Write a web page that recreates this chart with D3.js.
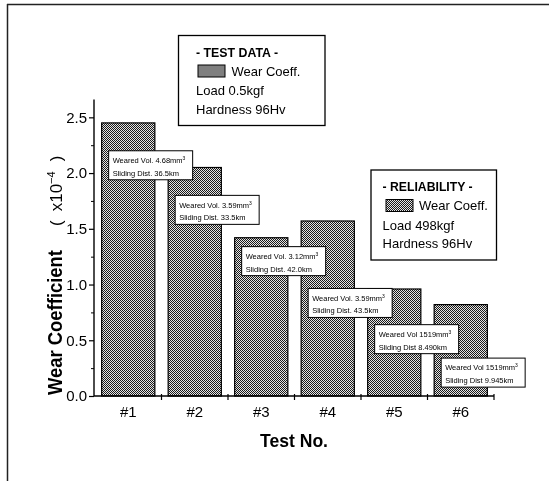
<!DOCTYPE html>
<html>
<head>
<meta charset="utf-8">
<script src="https://cdn.jsdelivr.net/npm/d3@7"></script>
<style>
  body { margin: 0; background: #fff; }
  svg { will-change: transform; }
  text { font-family: "Liberation Sans", Arial, sans-serif; fill: #000; }
</style>
</head>
<body>
<script>
// test numbers and measured wear coefficient (x10^-4)
var tests = ["#1", "#2", "#3", "#4", "#5", "#6"];
var wearCoeff = [2.45, 2.05, 1.42, 1.57, 0.96, 0.82];

// annotation text per bar, and where its box sits (in y units)
var wearedVol = ["Weared Vol. 4.68mm", "Weared Vol. 3.59mm", "Weared Vol. 3.12mm",
                 "Weared Vol. 3.59mm", "Weared Vol  1519mm", "Weared Vol  1519mm"];
var slidingDist = ["Sliding Dist. 36.5km", "Sliding Dist. 33.5km", "Sliding Dist. 42.0km",
                   "Sliding Dist. 43.5km", "Sliding Dist  8.490km", "Sliding Dist  9.945km"];
var noteAt = [2.20, 1.80, 1.34, 0.965, 0.64, 0.34];

var yTicks = [0, 0.5, 1.0, 1.5, 2.0, 2.5];
var yMinor = [0.25, 0.75, 1.25, 1.75, 2.25];

// legend boxes
var legendTitle = ["- TEST DATA -", "- RELIABILITY -"];
var legendLoad = ["Load 0.5kgf", "Load 498kgf"];
var legendHard = ["Hardness 96Hv", "Hardness 96Hv"];

var width = 549, height = 481;

var svg = d3.select("body").append("svg")
    .attr("width", width)
    .attr("height", height);

// halftone fill like the scanned bars
var defs = svg.append("defs");
var pat = defs.append("pattern")
    .attr("id", "dots")
    .attr("patternUnits", "userSpaceOnUse")
    .attr("width", 2).attr("height", 2);
pat.append("rect").attr("width", 2).attr("height", 2).attr("fill", "#e4e4e4");
pat.append("rect").attr("width", 1).attr("height", 1).attr("fill", "#1a1a1a");
pat.append("rect").attr("x", 1).attr("y", 1).attr("width", 1).attr("height", 1).attr("fill", "#1a1a1a");

// page frame (top + left only)
svg.append("line").attr("x1", 7).attr("x2", 549).attr("y1", 4.5).attr("y2", 4.5)
    .attr("stroke", "#222").attr("stroke-width", 1.5);
svg.append("line").attr("x1", 7.5).attr("x2", 7.5).attr("y1", 4).attr("y2", 481)
    .attr("stroke", "#222").attr("stroke-width", 1.5);

var x0 = 94, x1 = 494, y0 = 396;

var x = d3.scaleBand()
    .domain(tests)
    .range([95, x1])
    .paddingInner(0.2)
    .paddingOuter(0.1);

var y = d3.scaleLinear()
    .domain([0, 2.66])
    .range([y0, 99.5]);

// bars
svg.append("g")
    .selectAll("rect")
    .data(wearCoeff)
    .enter().append("rect")
    .attr("x", function(d, i) { return x(tests[i]); })
    .attr("y", function(d) { return y(d); })
    .attr("width", x.bandwidth())
    .attr("height", function(d) { return y(0) - y(d); })
    .attr("fill", "url(#dots)")
    .attr("stroke", "#000")
    .attr("stroke-width", 1.2);

// y axis
var yAxis = svg.append("g")
    .attr("transform", "translate(" + x0 + ",0)")
    .call(d3.axisLeft(y).tickValues(yTicks).tickFormat(d3.format(".1f"))
          .tickSize(5).tickPadding(2));
yAxis.select(".domain").remove();
yAxis.selectAll("line").attr("stroke", "#000").attr("stroke-width", 1.2);
yAxis.selectAll("text").style("font-size", "15px");

var yMin = svg.append("g")
    .attr("transform", "translate(" + x0 + ",0)")
    .call(d3.axisLeft(y).tickValues(yMinor).tickFormat("").tickSize(3));
yMin.select(".domain").remove();
yMin.selectAll("line").attr("stroke", "#000").attr("stroke-width", 1);

svg.append("line")
    .attr("x1", x0).attr("x2", x0)
    .attr("y1", y(0)).attr("y2", y(2.66))
    .attr("stroke", "#000").attr("stroke-width", 1.4);

// x axis
var xAxis = svg.append("g")
    .attr("transform", "translate(0," + y0 + ")")
    .call(d3.axisBottom(x).tickSize(0).tickPadding(10.5));
xAxis.select(".domain").remove();
xAxis.selectAll("text").style("font-size", "15px");

svg.append("line")
    .attr("x1", x0).attr("x2", x1)
    .attr("y1", y0).attr("y2", y0)
    .attr("stroke", "#000").attr("stroke-width", 1.4);

// ticks on the cell boundaries
svg.append("g")
    .selectAll("line")
    .data(tests)
    .enter().append("line")
    .attr("x1", function(d) { return x(d) + x.bandwidth() + x.step() * x.paddingInner() / 2; })
    .attr("x2", function(d) { return x(d) + x.bandwidth() + x.step() * x.paddingInner() / 2; })
    .attr("y1", y0 - 2)
    .attr("y2", y0 + 4)
    .attr("stroke", "#000")
    .attr("stroke-width", 1.2);

// axis titles
svg.append("text")
    .attr("x", 294).attr("y", 446.5)
    .attr("text-anchor", "middle")
    .attr("textLength", 68)
    .attr("lengthAdjust", "spacingAndGlyphs")
    .style("font-size", "19px")
    .style("font-weight", "bold")
    .text("Test No.");

svg.append("text")
    .attr("transform", "translate(61.5,395) rotate(-90)")
    .attr("textLength", 145)
    .attr("lengthAdjust", "spacingAndGlyphs")
    .style("font-size", "20px")
    .style("font-weight", "bold")
    .text("Wear Coefficient");

var unit = svg.append("text")
    .attr("transform", "translate(61.5,226) rotate(-90)")
    .style("font-size", "17px");
unit.append("tspan").text("(");
unit.append("tspan").attr("dx", 9).text("x10");
unit.append("tspan").attr("dy", -7).style("font-size", "11px").text("\u22124");
unit.append("tspan").attr("dy", 7).attr("dx", 10).text(")");

// annotation boxes
var notes = svg.append("g")
    .selectAll("g")
    .data(noteAt)
    .enter().append("g")
    .attr("transform", function(d, i) {
        return "translate(" + (x(tests[i]) + 7) + "," + y(d) + ")";
    });

notes.append("rect")
    .attr("height", 29)
    .attr("fill", "#fff")
    .attr("stroke", "#000")
    .attr("stroke-width", 1);

var l1 = notes.append("text")
    .attr("x", 4).attr("y", 12.3)
    .style("font-size", "7.5px");
l1.append("tspan").text(function(d, i) { return wearedVol[i]; });
l1.append("tspan").attr("dy", -3).style("font-size", "5px").text("3");

notes.append("text")
    .attr("x", 4).attr("y", 25)
    .style("font-size", "7.5px")
    .text(function(d, i) { return slidingDist[i]; });

notes.each(function() {
    var g = d3.select(this);
    var w = 0;
    g.selectAll("text").each(function() { w = Math.max(w, this.getComputedTextLength()); });
    g.select("rect").attr("width", Math.max(84, w + 9));
});

// legends: box [x, y, w, h], text inset, swatch inset, label inset
var legendBox = [[178.5, 35.5, 146.5, 90], [371, 170, 125.5, 90]];
var legendInset = [[17.5, 19.5, 53], [11.6, 15, 48]];

legendTitle.forEach(function(t, i) {
    var b = legendBox[i], p = legendInset[i];
    var g = svg.append("g").attr("transform", "translate(" + b[0] + "," + b[1] + ")");
    g.append("rect")
        .attr("width", b[2]).attr("height", b[3])
        .attr("fill", "#fff")
        .attr("stroke", "#000")
        .attr("stroke-width", 1.3);
    g.append("text")
        .attr("x", p[0]).attr("y", 21)
        .attr("textLength", i == 0 ? 82 : 90)
        .attr("lengthAdjust", "spacingAndGlyphs")
        .style("font-size", "13px")
        .style("font-weight", "bold")
        .text(t);
    g.append("rect")
        .attr("x", p[1]).attr("y", 29.5)
        .attr("width", 27).attr("height", 12)
        .attr("fill", "url(#dots)")
        .attr("stroke", "#000")
        .attr("stroke-width", 1);
    g.append("text")
        .attr("x", p[2]).attr("y", 40)
        .style("font-size", "13px")
        .text("Wear Coeff.");
    g.append("text")
        .attr("x", p[0]).attr("y", 59.5)
        .style("font-size", "13px")
        .text(legendLoad[i]);
    g.append("text")
        .attr("x", p[0]).attr("y", 78)
        .style("font-size", "13px")
        .text(legendHard[i]);
});
</script>
</body>
</html>
